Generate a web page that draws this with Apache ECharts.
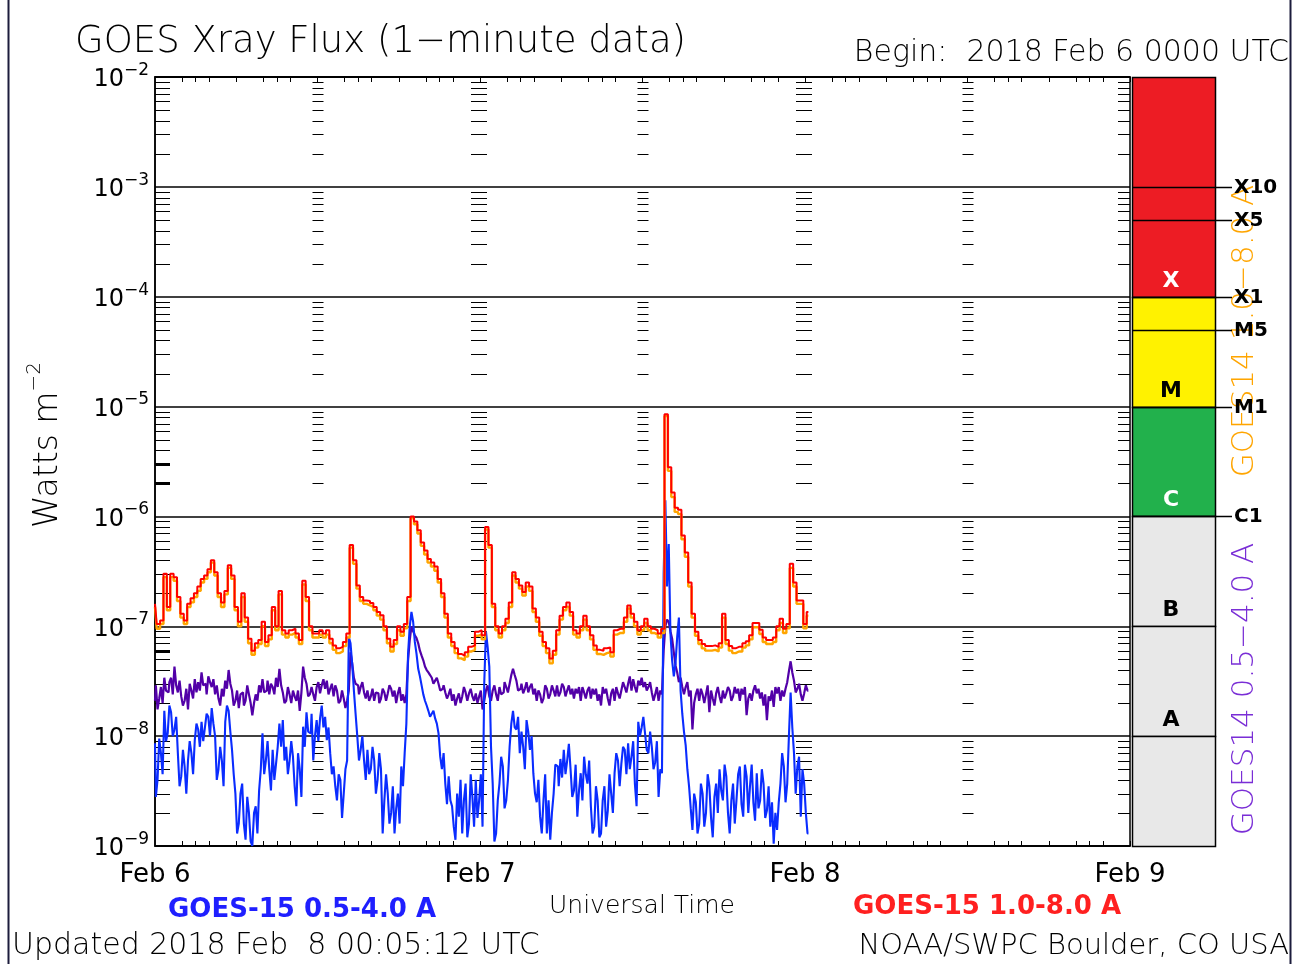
<!DOCTYPE html>
<html>
<head>
<meta charset="utf-8">
<script src="https://cdn.jsdelivr.net/npm/echarts@6/dist/echarts.min.js"></script>
<style>
html,body{margin:0;padding:0;background:#fff;}
#c{width:1297px;height:964px;}
</style>
</head>
<body>
<div id="c"></div>
<script>
// ---------------- DATA ----------------
// 15-minute samples from 2018 Feb 6 00:00 UTC (hours since start = index * STEP_HOURS)
const STEP_HOURS = 0.25;

// GOES-15 1.0-8.0 A (W m^-2)
const goes15Long = [
1.6e-7,1.05e-7,1.13e-7,3.0e-7,1.5e-7,3.0e-7,2.8e-7,1.85e-7,1.3e-7,1.13e-7,
1.6e-7,1.8e-7,2.0e-7,2.3e-7,2.7e-7,2.9e-7,3.3e-7,4.0e-7,3.1e-7,2.0e-7,
1.65e-7,2.1e-7,3.6e-7,2.9e-7,1.5e-7,1.1e-7,2.0e-7,1.2e-7,7.7e-8,6.0e-8,
7.0e-8,7.5e-8,1.1e-7,7.2e-8,8.3e-8,1.5e-7,1.0e-7,2.1e-7,9.2e-8,8.6e-8,
9.2e-8,9.5e-8,8.6e-8,7.5e-8,2.6e-7,1.85e-7,1.0e-7,8.6e-8,8.6e-8,9.2e-8,
8.6e-8,9.2e-8,7.7e-8,6.7e-8,6.3e-8,6.5e-8,7.2e-8,8.6e-8,5.5e-7,4.0e-7,
2.35e-7,1.85e-7,1.72e-7,1.7e-7,1.63e-7,1.5e-7,1.35e-7,1.26e-7,1.0e-7,7.7e-8,
6.5e-8,7.5e-8,1.0e-7,8.9e-8,1.05e-7,1.85e-7,1.0e-6,9.0e-7,7.5e-7,5.8e-7,
4.9e-7,4.1e-7,3.8e-7,3.5e-7,2.7e-7,2.0e-7,1.3e-7,8.6e-8,7.2e-8,6.3e-8,
5.6e-8,5.4e-8,5.8e-8,6.5e-8,6.7e-8,8.9e-8,9.2e-8,8.3e-8,8.0e-7,5.5e-7,
1.6e-7,1.0e-7,8.6e-8,1.0e-7,1.17e-7,1.65e-7,3.1e-7,2.7e-7,2.35e-7,2.05e-7,
2.5e-7,2.3e-7,1.45e-7,1.2e-7,8.9e-8,7.2e-8,6.3e-8,5.1e-8,6.0e-8,9.2e-8,
1.25e-7,1.5e-7,1.65e-7,1.35e-7,9.2e-8,8.6e-8,1.0e-7,1.25e-7,1.0e-7,8.3e-8,
6.7e-8,6.1e-8,6.0e-8,6.3e-8,6.4e-8,5.8e-8,9.2e-8,9.5e-8,9.5e-8,1.2e-7,
1.55e-7,1.3e-7,1.1e-7,9.2e-8,1.0e-7,1.17e-7,1.0e-7,9.5e-8,9.2e-8,8.6e-8,
9.5e-8,8.5e-6,2.8e-6,1.65e-6,1.2e-6,1.15e-6,6.7e-7,4.7e-7,2.5e-7,1.3e-7,
8.9e-8,7.5e-8,6.9e-8,6.6e-8,6.6e-8,6.7e-8,6.5e-8,7.0e-8,1.3e-7,7.5e-8,
6.6e-8,6.3e-8,6.5e-8,6.5e-8,7.0e-8,7.3e-8,8.3e-8,1.07e-7,1.07e-7,9.3e-8,
7.9e-8,7.5e-8,7.5e-8,7.9e-8,1.0e-7,1.17e-7,9.5e-8,1.05e-7,3.7e-7,2.5e-7,
1.72e-7,1.72e-7,1.05e-7,1.35e-7];

// GOES-14 1.0-8.0 A
const goes14Long = [
1.5e-7,9.5e-8,1.05e-7,2.8e-7,1.4e-7,2.8e-7,2.6e-7,1.7e-7,1.2e-7,1.05e-7,
1.5e-7,1.65e-7,1.85e-7,2.1e-7,2.5e-7,2.7e-7,3.1e-7,3.8e-7,2.9e-7,1.85e-7,
1.5e-7,1.95e-7,3.4e-7,2.7e-7,1.4e-7,1.0e-7,1.85e-7,1.1e-7,7.0e-8,5.5e-8,
6.4e-8,6.9e-8,1.0e-7,6.6e-8,7.6e-8,1.4e-7,9.2e-8,1.95e-7,8.4e-8,7.9e-8,
8.4e-8,8.7e-8,7.9e-8,6.9e-8,2.4e-7,1.7e-7,9.2e-8,7.9e-8,7.9e-8,8.4e-8,
7.9e-8,8.4e-8,7.0e-8,6.1e-8,5.7e-8,5.9e-8,6.6e-8,7.9e-8,5.2e-7,3.7e-7,
2.2e-7,1.7e-7,1.6e-7,1.55e-7,1.5e-7,1.4e-7,1.25e-7,1.15e-7,9.2e-8,7.0e-8,
5.9e-8,6.9e-8,9.2e-8,8.2e-8,9.6e-8,1.7e-7,9.6e-7,8.5e-7,7.0e-7,5.4e-7,
4.5e-7,3.8e-7,3.5e-7,3.2e-7,2.5e-7,1.85e-7,1.2e-7,7.9e-8,6.6e-8,5.7e-8,
5.1e-8,4.9e-8,5.3e-8,5.9e-8,6.1e-8,8.2e-8,8.4e-8,7.6e-8,7.6e-7,5.2e-7,
1.5e-7,9.2e-8,7.9e-8,9.2e-8,1.07e-7,1.5e-7,2.9e-7,2.5e-7,2.2e-7,1.9e-7,
2.3e-7,2.1e-7,1.35e-7,1.1e-7,8.2e-8,6.6e-8,5.7e-8,4.6e-8,5.5e-8,8.4e-8,
1.15e-7,1.4e-7,1.5e-7,1.25e-7,8.4e-8,7.9e-8,9.2e-8,1.15e-7,9.2e-8,7.6e-8,
6.1e-8,5.6e-8,5.5e-8,5.7e-8,5.8e-8,5.3e-8,8.4e-8,8.7e-8,8.7e-8,1.1e-7,
1.45e-7,1.2e-7,1.0e-7,8.4e-8,9.2e-8,1.07e-7,9.2e-8,8.7e-8,8.4e-8,7.9e-8,
8.7e-8,8.2e-6,2.6e-6,1.5e-6,1.1e-6,1.05e-6,6.2e-7,4.3e-7,2.3e-7,1.2e-7,
8.2e-8,6.9e-8,6.3e-8,6.0e-8,6.0e-8,6.1e-8,5.9e-8,6.4e-8,1.2e-7,6.9e-8,
6.0e-8,5.7e-8,5.9e-8,5.9e-8,6.4e-8,6.7e-8,7.6e-8,9.8e-8,9.8e-8,8.5e-8,
7.2e-8,6.9e-8,6.9e-8,7.2e-8,9.2e-8,1.07e-7,8.7e-8,9.6e-8,3.4e-7,2.3e-7,
1.6e-7,1.6e-7,9.6e-8,1.25e-7];

// GOES-14 0.5-4.0 A, on the 15-minute marks ...
const goes14Short = [
2.1e-8,1.75e-8,2.8e-8,3.4e-8,2.5e-8,3.4e-8,4.3e-8,2.5e-8,2.3e-8,2.1e-8,
1.75e-8,2.6e-8,3.3e-8,3.1e-8,3.8e-8,3.0e-8,3.5e-8,2.8e-8,2.4e-8,2.2e-8,
2.7e-8,3.2e-8,4.0e-8,2.6e-8,2.1e-8,1.8e-8,2.5e-8,2.1e-8,2.4e-8,1.55e-8,
2.4e-8,2.9e-8,3.3e-8,2.6e-8,2.4e-8,2.8e-8,3.4e-8,4.1e-8,2.5e-8,2.1e-8,
2.4e-8,2.6e-8,2.1e-8,1.7e-8,4.3e-8,3.0e-8,2.4e-8,2.4e-8,2.8e-8,2.45e-8,
3.3e-8,3.2e-8,2.7e-8,2.3e-8,2.6e-8,2.1e-8,2.2e-8,2.1e-8,5.8e-8,3.4e-8,
2.9e-8,2.8e-8,2.5e-8,2.6e-8,2.3e-8,2.1e-8,2.45e-8,2.2e-8,2.5e-8,2.45e-8,
2.7e-8,2.6e-8,2.45e-8,2.1e-8,2.0e-8,4.9e-8,1.0e-7,8.3e-8,7.0e-8,5.4e-8,
4.3e-8,3.8e-8,3.4e-8,3.2e-8,3.0e-8,2.7e-8,2.5e-8,2.4e-8,2.1e-8,1.9e-8,
2.45e-8,2.3e-8,2.5e-8,2.45e-8,2.3e-8,2.45e-8,2.3e-8,1.75e-8,2.6e-8,2.3e-8,
2.6e-8,2.4e-8,2.8e-8,2.5e-8,2.8e-8,3.0e-8,4.1e-8,3.2e-8,2.7e-8,2.45e-8,
3.1e-8,2.8e-8,2.4e-8,2.1e-8,2.4e-8,2.2e-8,2.7e-8,2.4e-8,2.6e-8,2.9e-8,
2.5e-8,2.8e-8,2.6e-8,2.4e-8,2.2e-8,2.45e-8,2.1e-8,2.5e-8,2.6e-8,2.2e-8,
2.4e-8,2.1e-8,1.9e-8,2.45e-8,2.2e-8,2.45e-8,2.1e-8,2.45e-8,2.6e-8,2.8e-8,
3.0e-8,2.6e-8,2.8e-8,3.2e-8,3.4e-8,3.1e-8,2.8e-8,2.5e-8,2.4e-8,2.1e-8,
2.4e-8,1.0e-7,1.1e-7,7.7e-8,4.4e-8,3.1e-8,2.8e-8,2.8e-8,2.3e-8,1.15e-8,
2.4e-8,2.1e-8,2.4e-8,2.4e-8,1.65e-8,2.2e-8,2.45e-8,2.3e-8,2.6e-8,2.45e-8,
2.6e-8,2.3e-8,2.45e-8,2.1e-8,2.4e-8,1.55e-8,2.45e-8,2.6e-8,2.45e-8,2.2e-8,
1.9e-8,1.4e-8,2.1e-8,1.85e-8,2.45e-8,2.1e-8,2.3e-8,3.1e-8,4.8e-8,3.2e-8,
2.7e-8,2.4e-8,2.45e-8,2.6e-8];
// ... and half-way between them (the other edge of the noisy band)
const goes14ShortMid = [
2.9e-8,2.2e-8,2.0e-8,2.6e-8,3.1e-8,2.4e-8,2.9e-8,3.2e-8,1.9e-8,2.7e-8,
3.0e-8,2.2e-8,2.5e-8,2.6e-8,2.9e-8,2.4e-8,3.1e-8,3.3e-8,2.9e-8,1.9e-8,
2.3e-8,2.7e-8,3.0e-8,1.9e-8,2.6e-8,2.4e-8,1.9e-8,2.9e-8,2.0e-8,2.0e-8,
2.1e-8,2.5e-8,2.5e-8,3.2e-8,3.0e-8,2.4e-8,2.8e-8,2.9e-8,2.0e-8,2.8e-8,
2.0e-8,2.3e-8,2.6e-8,2.5e-8,3.4e-8,2.3e-8,2.8e-8,2.1e-8,3.1e-8,2.9e-8,
2.7e-8,2.4e-8,3.0e-8,2.9e-8,2.0e-8,2.6e-8,1.8e-8,2.6e-8,4.6e-8,3.0e-8,
2.4e-8,3.1e-8,2.2e-8,2.1e-8,2.7e-8,2.5e-8,2.0e-8,2.7e-8,2.1e-8,2.9e-8,
2.3e-8,2.0e-8,2.8e-8,2.4e-8,2.4e-8,7.5e-8,9.0e-8,7.8e-8,6.0e-8,4.9e-8,
4.0e-8,3.6e-8,3.0e-8,3.4e-8,2.6e-8,2.9e-8,2.2e-8,2.7e-8,2.4e-8,2.2e-8,
2.0e-8,2.8e-8,2.1e-8,2.7e-8,2.1e-8,2.0e-8,2.6e-8,2.1e-8,2.9e-8,2.1e-8,
2.9e-8,2.1e-8,2.4e-8,3.1e-8,2.5e-8,3.6e-8,3.6e-8,2.6e-8,3.0e-8,2.7e-8,
2.5e-8,3.0e-8,2.7e-8,2.6e-8,2.0e-8,2.9e-8,2.2e-8,2.9e-8,2.3e-8,2.3e-8,
3.0e-8,2.3e-8,2.9e-8,2.7e-8,2.7e-8,2.8e-8,2.8e-8,2.2e-8,2.8e-8,2.7e-8,
2.7e-8,2.4e-8,2.8e-8,2.7e-8,1.9e-8,2.7e-8,2.8e-8,2.2e-8,3.1e-8,2.5e-8,
3.5e-8,3.3e-8,2.5e-8,2.9e-8,2.8e-8,2.6e-8,3.1e-8,2.1e-8,2.8e-8,2.6e-8,
6.0e-8,1.15e-7,9.0e-8,5.8e-8,3.8e-8,3.4e-8,2.4e-8,3.1e-8,2.6e-8,2.0e-8,
2.7e-8,2.7e-8,2.0e-8,2.9e-8,2.6e-8,1.9e-8,2.8e-8,2.0e-8,2.2e-8,2.8e-8,
2.1e-8,2.8e-8,2.7e-8,2.7e-8,2.8e-8,2.2e-8,2.1e-8,2.9e-8,2.7e-8,2.5e-8,
2.4e-8,2.3e-8,2.6e-8,2.8e-8,2.8e-8,2.6e-8,2.7e-8,3.9e-8,3.8e-8,2.5e-8,
3.0e-8,2.1e-8,2.9e-8];

// GOES-15 0.5-4.0 A, on the 15-minute marks ...
const goes15Short = [
8.6e-9,4.0e-9,7.0e-9,1.7e-8,1.06e-8,1.65e-8,1.15e-8,7.0e-9,4.3e-9,5.3e-9,
6.0e-9,7.0e-9,9.2e-9,1.15e-8,1.35e-8,1.2e-8,1.5e-8,1.8e-8,1.0e-8,5.0e-9,
6.0e-9,1.35e-8,1.7e-8,7.5e-9,3.0e-9,1.6e-9,3.7e-9,1.14e-9,2.0e-9,1.0e-9,
2.3e-9,3.2e-9,1.06e-8,6.0e-9,5.0e-9,7.5e-9,5.6e-9,1.3e-8,1.4e-8,8.0e-9,
6.0e-9,6.5e-9,2.3e-9,5.0e-9,1.22e-8,1.65e-8,1.06e-8,6.0e-9,1.4e-8,1.45e-8,
1.2e-8,9.2e-9,7.0e-9,5.3e-9,2.6e-9,4.0e-9,3.0e-9,6.0e-9,7.0e-8,2.6e-8,
1.0e-8,7.5e-9,6.0e-9,7.5e-9,5.0e-9,6.0e-9,4.0e-9,5.0e-9,2.6e-9,3.0e-9,
2.0e-9,1.3e-9,3.0e-9,5.3e-9,7.0e-9,5.6e-8,1.35e-7,7.2e-8,4.1e-8,2.9e-8,
2.1e-8,1.7e-8,1.6e-8,1.45e-8,1.06e-8,5.0e-9,3.7e-9,4.3e-9,2.3e-9,1.14e-9,
1.85e-9,1.3e-9,3.7e-9,1.6e-9,2.8e-9,4.0e-9,2.6e-9,1.5e-9,9.0e-8,4.3e-8,
3.7e-9,1.3e-9,3.7e-9,5.3e-9,2.6e-9,8.0e-9,1.7e-8,1.15e-8,7.0e-9,8.0e-9,
1.4e-8,7.5e-9,4.6e-9,2.5e-9,1.85e-9,2.6e-9,1.3e-9,1.14e-9,3.0e-9,5.3e-9,
6.2e-9,7.5e-9,6.0e-9,5.0e-9,3.2e-9,1.85e-9,4.6e-9,6.5e-9,3.7e-9,2.3e-9,
1.5e-9,2.6e-9,1.3e-9,3.5e-9,2.1e-9,3.0e-9,4.6e-9,6.0e-9,5.6e-9,7.5e-9,
8.6e-9,6.5e-9,3.7e-9,1.35e-8,1.2e-8,1.06e-8,7.0e-9,8.0e-9,5.8e-9,2.8e-9,
4.6e-9,1.4e-6,5.6e-7,4.9e-8,4.6e-8,1.2e-7,1.6e-8,8.3e-9,3.5e-9,1.4e-9,
2.5e-9,1.6e-9,3.0e-9,2.0e-9,3.5e-9,1.2e-9,3.7e-9,5.0e-9,2.6e-9,4.3e-9,
1.3e-9,3.7e-9,2.6e-9,5.3e-9,1.85e-9,4.3e-9,3.5e-9,2.5e-9,4.6e-9,2.6e-9,
3.7e-9,2.1e-9,1.5e-9,1.05e-9,1.4e-9,3.7e-9,5.3e-9,3.7e-9,2.5e-8,7.0e-9,
5.3e-9,1.85e-9,3.7e-9,1.3e-9];
// ... and half-way between them
const goes15ShortMid = [
2.8e-9,9.5e-9,4.5e-9,9.0e-9,1.9e-8,1.0e-8,1.5e-8,3.5e-9,7.5e-9,3.0e-9,
9.0e-9,4.5e-9,1.3e-8,8.0e-9,9.0e-9,1.6e-8,1.0e-8,1.3e-8,4.0e-9,8.0e-9,
3.5e-9,1.9e-8,1.1e-8,4.5e-9,1.3e-9,3.0e-9,1.6e-9,2.8e-9,1.1e-9,2.0e-9,
1.3e-9,5.0e-9,4.5e-9,9.0e-9,3.2e-9,4.0e-9,8.0e-9,8.0e-9,6.0e-9,4.5e-9,
9.0e-9,3.5e-9,7.0e-9,2.8e-9,8.0e-9,1.1e-8,1.6e-8,1.0e-8,9.0e-9,1.9e-8,
1.5e-8,1.2e-8,4.5e-9,3.5e-9,4.5e-9,1.8e-9,5.0e-9,8.0e-8,4.5e-8,1.6e-8,
6.0e-9,1.0e-8,4.0e-9,4.5e-9,8.0e-9,3.0e-9,7.0e-9,1.3e-9,4.5e-9,1.6e-9,
3.5e-9,2.2e-9,1.6e-9,3.5e-9,1.3e-8,1.0e-7,1.1e-7,5.6e-8,3.5e-8,2.4e-8,
1.9e-8,1.5e-8,1.7e-8,1.3e-8,6.5e-9,7.0e-9,2.4e-9,2.6e-9,1.5e-9,3.0e-9,
4.0e-9,2.6e-9,1.2e-9,4.5e-9,1.5e-9,1.8e-9,4.5e-9,3.0e-8,6.5e-8,8.0e-9,
1.1e-9,2.6e-9,6.5e-9,2.2e-9,4.0e-9,1.3e-8,1.2e-8,1.5e-8,1.1e-8,5.0e-9,
1.1e-8,1.0e-8,3.0e-9,4.0e-9,1.3e-9,4.5e-9,2.6e-9,2.0e-9,5.5e-9,3.5e-9,
4.2e-9,4.5e-9,8.5e-9,2.8e-9,5.5e-9,3.2e-9,2.6e-9,4.5e-9,6.0e-9,1.3e-9,
3.5e-9,1.2e-9,2.6e-9,1.5e-9,4.5e-9,2.0e-9,7.0e-9,3.5e-9,8.0e-9,4.5e-9,
5.0e-9,9.0e-9,2.3e-9,1.0e-8,1.5e-8,7.5e-9,1.1e-8,5.0e-9,9.0e-9,5.0e-9,
3.0e-7,2.3e-7,8.6e-8,3.5e-8,8.0e-8,2.6e-8,1.1e-8,5.0e-9,2.2e-9,3.0e-9,
1.3e-9,3.7e-9,1.5e-9,4.5e-9,1.8e-9,2.8e-9,2.0e-9,3.2e-9,5.5e-9,2.0e-9,
2.6e-9,1.6e-9,4.5e-9,2.4e-9,5.5e-9,2.0e-9,5.5e-9,1.7e-9,2.2e-9,5.0e-9,
1.8e-9,3.5e-9,2.5e-9,2.0e-9,2.5e-9,7.0e-9,2.5e-9,1.0e-8,1.2e-8,3.0e-9,
6.5e-9,5.0e-9,2.0e-9];

// axis: day labels at 0/24/48/72 h, small time ticks (hours within a day)
const dayLabels = ['Feb 6', 'Feb 7', 'Feb 8', 'Feb 9'];
const dayStartHours = [0, 24, 48];
const hourTickPattern = [2, 3, 4, 6, 8, 9, 10, 12, 14, 15, 16, 18, 20, 21, 22, 24];
const decadeExponents = [-9, -8, -7, -6, -5, -4, -3];
const minorMultipliers = [2, 3, 4, 5, 6, 7, 8, 9];
const halfLevels = [5e-4, 5e-5, 5e-6];           // grey guide lines
const heavyLeftTicks = [2e-6, 3e-6, 6e-8];

// flare class scale
const flareLevelLabels = ['X10', 'X5', 'X1', 'M5', 'M1', 'C1'];
const flareLevelValues = [1e-3, 5e-4, 1e-4, 5e-5, 1e-5, 1e-6];
const classNames  = ['X', 'M', 'C', 'B', 'A', ''];
const classLower  = [1e-4, 1e-5, 1e-6, 1e-7, 1e-8, 1e-9];
const classUpper  = [1e-2, 1e-4, 1e-5, 1e-6, 1e-7, 1e-8];

// ---------------- STYLE ----------------
const FONT = '"DejaVu Sans", sans-serif';
const classFill = ['#ed1c24', '#fff200', '#22b14c', '#e8e8e8', '#e8e8e8', '#e8e8e8'];
const classText = ['#ffffff', '#000000', '#ffffff', '#000000', '#000000', '#000000'];
const BAR_W = 83;   // colour bar width on the 0..100 scale axis

const toPairs = arr => arr.map((v, i) => [i * STEP_HOURS, v]);
const interleave = (main, mid) => {
  const out = [];
  main.forEach((v, i) => {
    out.push([i * STEP_HOURS, v]);
    if (i < mid.length) out.push([(i + 0.5) * STEP_HOURS, mid[i]]);
  });
  return out;
};

const xTicks = [];
dayStartHours.forEach(d => hourTickPattern.forEach(h => xTicks.push(d + h)));

// y-axis minor tick dashes: columns at left edge, every 12h, right edge
const tickColumns = [[0, 0], [12, 1], [24, 2], [36, 1], [48, 2], [60, 1], [72, 3]];
const tickData = [];
tickColumns.forEach(c => decadeExponents.forEach(e => minorMultipliers.forEach(m => {
  tickData.push([c[0], m * Math.pow(10, e), c[1]]);
})));
heavyLeftTicks.forEach(v => tickData.push([0, v, 4]));

const chart = echarts.init(document.getElementById('c'), null, {renderer: 'canvas'});

const yLabelFormatter = v => {
  const e = Math.round(Math.log10(v));
  return '{b|10}{s|\u2212' + (-e) + '}';
};

const option = {
  backgroundColor: '#ffffff',
  animation: false,
  grid: [
    {left: 155, right: 167, top: 77, bottom: 118, show: true, borderColor: '#000', borderWidth: 1.5, backgroundColor: 'transparent'},
    {left: 1132, width: 100, top: 77, bottom: 118, show: false}
  ],
  xAxis: [
    {
      type: 'value', gridIndex: 0, min: 0, max: 72, interval: 24, position: 'bottom',
      axisLine: {show: true, lineStyle: {color: '#000', width: 1.5}},
      axisTick: {show: true, inside: true, length: 5, customValues: xTicks, lineStyle: {color: '#000', width: 1}},
      axisLabel: {show: true, margin: 16, fontFamily: FONT, fontSize: 26, color: '#000',
        showMinLabel: true, showMaxLabel: true,
        formatter: v => dayLabels[Math.round(v / 24)]},
      splitLine: {show: false}
    },
    {
      type: 'value', gridIndex: 0, min: 0, max: 72, interval: 24, position: 'top',
      axisLine: {show: true, lineStyle: {color: '#000', width: 1.5}},
      axisTick: {show: true, inside: true, length: 5, customValues: xTicks, lineStyle: {color: '#000', width: 1}},
      axisLabel: {show: false},
      splitLine: {show: false}
    },
    {type: 'value', gridIndex: 1, min: 0, max: 100, show: false}
  ],
  yAxis: [
    {
      type: 'log', gridIndex: 0, logBase: 10, min: 1e-9, max: 1e-2, splitNumber: 7,
      axisLine: {show: true, lineStyle: {color: '#000', width: 1.5}},
      axisTick: {show: false},
      axisLabel: {
        show: true, margin: 6, formatter: yLabelFormatter, showMinLabel: true, showMaxLabel: true,
        rich: {
          b: {fontFamily: FONT, fontSize: 24, color: '#000', lineHeight: 30, verticalAlign: 'bottom'},
          s: {fontFamily: FONT, fontSize: 17, color: '#000', lineHeight: 30, verticalAlign: 'top'}
        }
      },
      splitLine: {show: true, lineStyle: {color: '#000', width: 1.5}}
    },
    {type: 'log', gridIndex: 1, logBase: 10, min: 1e-9, max: 1e-2, show: false}
  ],
  series: [
    {
      name: 'ticks', type: 'custom', xAxisIndex: 0, yAxisIndex: 0, silent: true, z: 3,
      data: tickData, encode: {x: 0, y: 1},
      renderItem: (params, api) => {
        const p = api.coord([api.value(0), api.value(1)]);
        const kind = api.value(2);
        const y = Math.round(p[1]) + 0.5;
        let x1, x2, w = 1;
        if (kind === 0) { x1 = p[0]; x2 = p[0] + 15; }
        else if (kind === 1) { x1 = p[0] - 5; x2 = p[0] + 6; }
        else if (kind === 2) { x1 = p[0] - 9; x2 = p[0] + 7; }
        else if (kind === 3) { x1 = p[0] - 12; x2 = p[0]; }
        else { x1 = p[0]; x2 = p[0] + 15; w = 3; }
        return {type: 'line', shape: {x1: x1, y1: y, x2: x2, y2: y}, style: {stroke: '#000', lineWidth: w}};
      }
    },
    {
      name: 'GOES-14 0.5-4.0 A', type: 'line', xAxisIndex: 0, yAxisIndex: 0,
      data: interleave(goes14Short, goes14ShortMid), showSymbol: false, step: 'middle', z: 4,
      lineStyle: {color: '#5200a8', width: 2.2},
      markLine: {
        silent: true, symbol: 'none', label: {show: false},
        lineStyle: {color: '#c8c8c8', width: 1.5, type: 'solid'},
        data: halfLevels.map(v => ({yAxis: v}))
      }
    },
    {
      name: 'GOES-15 0.5-4.0 A', type: 'line', xAxisIndex: 0, yAxisIndex: 0,
      data: interleave(goes15Short, goes15ShortMid), showSymbol: false, step: 'middle', z: 5,
      lineStyle: {color: '#0a2cff', width: 2.1}
    },
    {
      name: 'GOES-14 1.0-8.0 A', type: 'line', xAxisIndex: 0, yAxisIndex: 0,
      data: toPairs(goes14Long), showSymbol: false, step: 'middle', z: 6,
      lineStyle: {color: '#ffa500', width: 2.4}
    },
    {
      name: 'GOES-15 1.0-8.0 A', type: 'line', xAxisIndex: 0, yAxisIndex: 0,
      data: toPairs(goes15Long), showSymbol: false, step: 'middle', z: 7,
      lineStyle: {color: '#ff0000', width: 2}
    },
    {
      name: 'classes', type: 'custom', xAxisIndex: 2, yAxisIndex: 1, silent: true, clip: false, z: 3,
      data: classNames.map((n, i) => [0, classLower[i], classUpper[i], i]),
      encode: {x: 0, y: [1, 2]},
      renderItem: (params, api) => {
        const i = api.value(3);
        const lo = api.coord([0, api.value(1)]);
        const hi = api.coord([BAR_W, api.value(2)]);
        const x0 = Math.round(lo[0]) + 0.5, y0 = Math.round(hi[1]) + 0.5;
        const x1 = Math.round(hi[0]) + 0.5, y1 = Math.round(lo[1]) + 0.5;
        return {
          type: 'group',
          children: [
            {type: 'rect', shape: {x: x0, y: y0, width: x1 - x0, height: y1 - y0},
             style: {fill: classFill[i], stroke: '#000', lineWidth: 1.5}},
            {type: 'text', x: (x0 + x1) / 2 - 3, y: y1 - 16,
             style: {text: classNames[i], fill: classText[i], font: 'bold 22px ' + FONT,
                     align: 'center', verticalAlign: 'middle', textAlign: 'center', textVerticalAlign: 'middle'}}
          ]
        };
      }
    },
    {
      name: 'levels', type: 'custom', xAxisIndex: 2, yAxisIndex: 1, silent: true, clip: false, z: 4,
      data: flareLevelLabels.map((l, i) => [0, flareLevelValues[i], i]),
      encode: {x: 0, y: 1},
      renderItem: (params, api) => {
        const i = api.value(2);
        const a = api.coord([0, api.value(1)]);
        const b = api.coord([100, api.value(1)]);
        const y = Math.round(a[1]) + 0.5;
        return {
          type: 'group',
          children: [
            {type: 'line', shape: {x1: a[0], y1: y, x2: b[0], y2: y}, style: {stroke: '#000', lineWidth: 1.5}},
            {type: 'text', x: b[0] + 2, y: y,
             style: {text: flareLevelLabels[i], fill: '#000', font: 'bold 20px ' + FONT,
                     align: 'left', verticalAlign: 'middle', textAlign: 'left', textVerticalAlign: 'middle'}}
          ]
        };
      }
    }
  ],
  graphic: [
    {type: 'line', shape: {x1: 8.5, y1: 0, x2: 8.5, y2: 964}, style: {stroke: '#1c1c3c', lineWidth: 2}, z: 0},
    {type: 'line', shape: {x1: 1290.5, y1: 0, x2: 1290.5, y2: 964}, style: {stroke: '#1c1c3c', lineWidth: 2}, z: 0},
    {type: 'text', x: 75, y: 42, z: 0,
     style: {text: 'GOES Xray Flux (1\u2212minute data)', font: '200 37px ' + FONT, fill: '#000',
             align: 'left', verticalAlign: 'middle', textAlign: 'left', textVerticalAlign: 'middle'}},
    {type: 'text', x: 1289, y: 53, z: 0,
     style: {text: 'Begin:  2018 Feb 6 0000 UTC', font: '200 30px ' + FONT, fill: '#000',
             align: 'right', verticalAlign: 'middle', textAlign: 'right', textVerticalAlign: 'middle'}},
    {type: 'text', x: 45, y: 445, rotation: Math.PI / 2, z: 0,
     style: {text: '{a|Watts m}{s|\u22122}', align: 'center', verticalAlign: 'middle', textAlign: 'center', textVerticalAlign: 'middle',
             rich: {a: {fontFamily: FONT, fontWeight: 200, fontSize: 33, lineHeight: 40, verticalAlign: 'bottom', fill: '#000', color: '#000'},
                    s: {fontFamily: FONT, fontWeight: 200, fontSize: 20, lineHeight: 40, verticalAlign: 'top', fill: '#000', color: '#000'}}}},
    {type: 'text', x: 1245, y: 331, rotation: Math.PI / 2, z: 0,
     style: {text: 'GOES14 1.0\u22128.0 A', font: '200 31px ' + FONT, fill: '#ffa500',
             align: 'center', verticalAlign: 'middle', textAlign: 'center', textVerticalAlign: 'middle'}},
    {type: 'text', x: 1245, y: 689, rotation: Math.PI / 2, z: 0,
     style: {text: 'GOES14 0.5\u22124.0 A', font: '200 31px ' + FONT, fill: '#7a2ed6',
             align: 'center', verticalAlign: 'middle', textAlign: 'center', textVerticalAlign: 'middle'}},
    {type: 'text', x: 642, y: 906, z: 0,
     style: {text: 'Universal Time', font: '200 25px ' + FONT, fill: '#000',
             align: 'center', verticalAlign: 'middle', textAlign: 'center', textVerticalAlign: 'middle'}},
    {type: 'text', x: 302, y: 910, z: 0,
     style: {text: 'GOES-15 0.5-4.0 A', font: 'bold 26px ' + FONT, fill: '#1f1fff',
             align: 'center', verticalAlign: 'middle', textAlign: 'center', textVerticalAlign: 'middle'}},
    {type: 'text', x: 987, y: 907, z: 0,
     style: {text: 'GOES-15 1.0-8.0 A', font: 'bold 26px ' + FONT, fill: '#ff2020',
             align: 'center', verticalAlign: 'middle', textAlign: 'center', textVerticalAlign: 'middle'}},
    {type: 'text', x: 12, y: 946, z: 0,
     style: {text: 'Updated 2018 Feb  8 00:05:12 UTC', font: '200 30px ' + FONT, fill: '#000',
             align: 'left', verticalAlign: 'middle', textAlign: 'left', textVerticalAlign: 'middle'}},
    {type: 'text', x: 1289, y: 946, z: 0,
     style: {text: 'NOAA/SWPC Boulder, CO USA', font: '200 29px ' + FONT, fill: '#000',
             align: 'right', verticalAlign: 'middle', textAlign: 'right', textVerticalAlign: 'middle'}}
  ]
};
chart.setOption(option);
</script>
</body>
</html>
